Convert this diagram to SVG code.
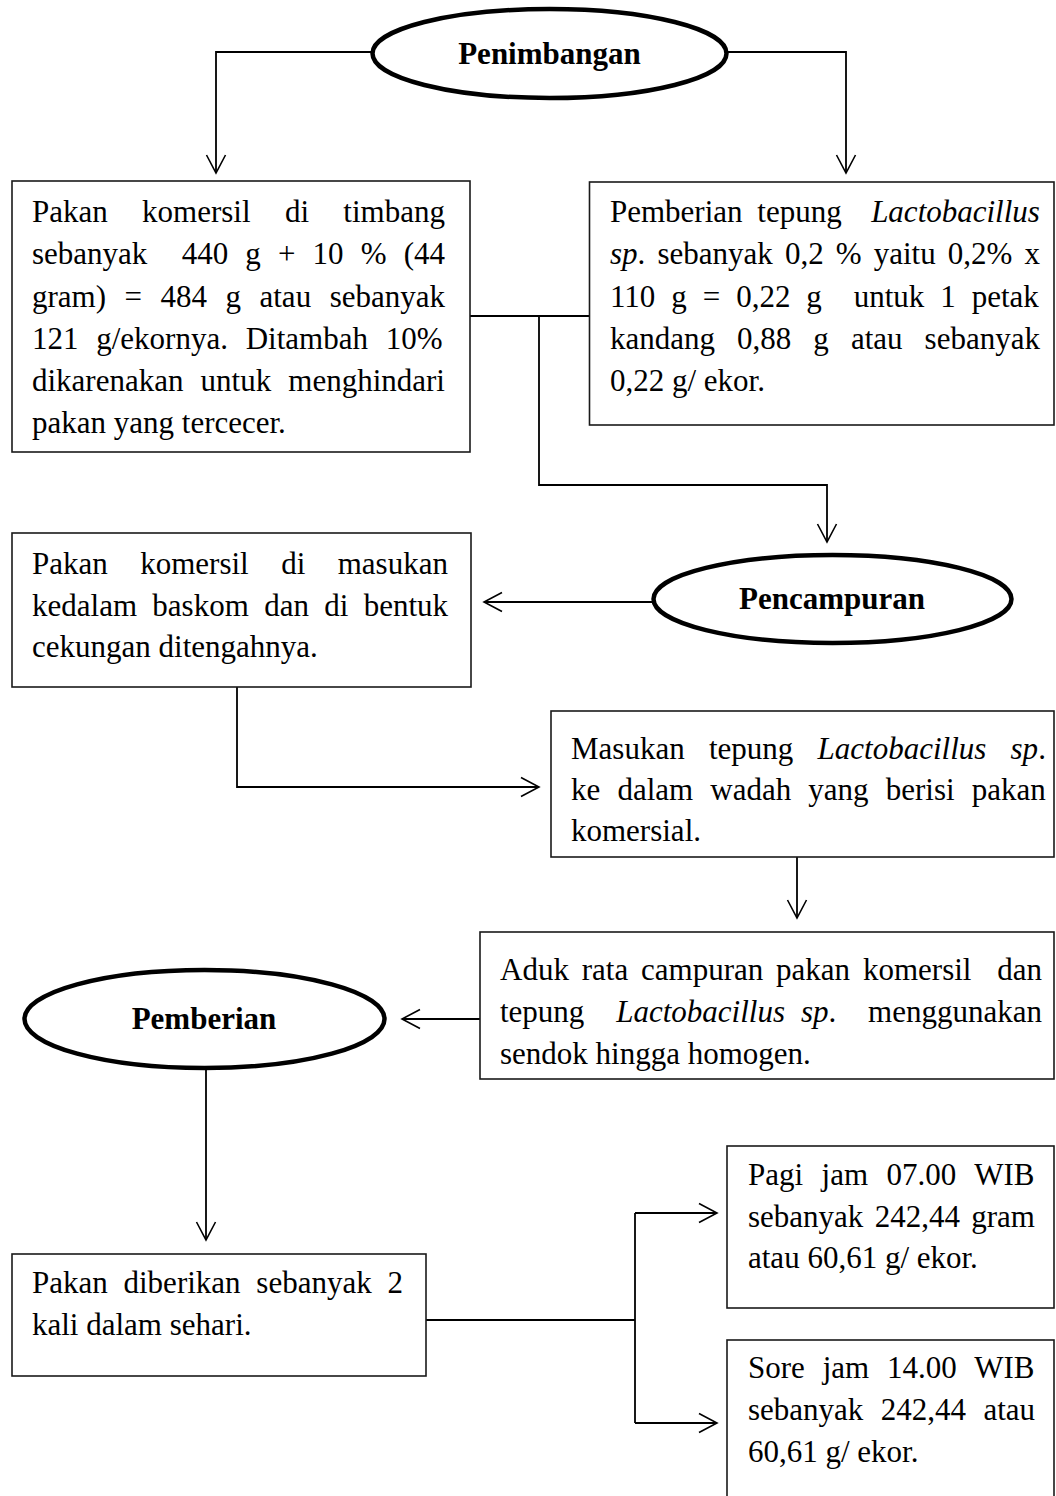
<svg xmlns="http://www.w3.org/2000/svg" width="1056" height="1496" viewBox="0 0 1056 1496">
<style>
.bg{fill:#ffffff}
.box{fill:#ffffff;stroke:#1a1a1a;stroke-width:1.6}
.ell{fill:#ffffff;stroke:#000000;stroke-width:4.5}
.t{font-family:"Liberation Serif","Times New Roman",serif;font-size:31px;fill:#000000}
.b{font-family:"Liberation Serif","Times New Roman",serif;font-size:31px;font-weight:bold;fill:#000000;text-anchor:middle}
.i{font-style:italic}
.c{fill:none;stroke:#000000;stroke-width:1.8}
.a{marker-end:url(#arr)}
</style>
<defs>
<marker id="arr" markerUnits="userSpaceOnUse" markerWidth="24" markerHeight="24" refX="0" refY="0" orient="auto" overflow="visible">
<path d="M-18,-9.5 L0,0 L-18,9.5" fill="none" stroke="#000000" stroke-width="1.6"/>
</marker>
</defs>
<rect class="bg" x="0" y="0" width="1056" height="1496"/>

<g id="connectors">
<path class="c a" d="M371,52 H216 V173"/>
<path class="c a" d="M728,52 H846 V173"/>
<path class="c" d="M470,316 H589.5"/>
<path class="c a" d="M539,316 V485 H827 V542"/>
<path class="c a" d="M652,602 H484"/>
<path class="c a" d="M237,687 V787 H539"/>
<path class="c a" d="M797,857 V918"/>
<path class="c a" d="M480,1019 H402"/>
<path class="c a" d="M206,1070 V1240"/>
<path class="c" d="M426,1320 H635"/>
<path class="c" d="M635,1213 V1423"/>
<path class="c a" d="M635,1213 H717"/>
<path class="c a" d="M635,1423 H717"/>
</g>

<g id="penimbangan">
<ellipse class="ell" cx="549.5" cy="53.5" rx="177" ry="44.5"/>
<text class="b" x="549.5" y="63.5">Penimbangan</text>
</g>

<g id="box-pakan-timbang">
<rect class="box" x="12" y="181" width="458" height="271"/>
<text class="t" x="32" y="222" word-spacing="26.58">Pakan komersil di timbang</text>
<text class="t" x="32" y="264" word-spacing="9.4">sebanyak <tspan dx="17.15">440 g + 10 % (44</tspan></text>
<text class="t" x="32" y="306.5" word-spacing="10.75">gram) = 484 g atau sebanyak</text>
<text class="t" x="32" y="348.5" word-spacing="10">121 g/ekornya. Ditambah 10%</text>
<text class="t" x="32" y="391" word-spacing="9.35">dikarenakan untuk menghindari</text>
<text class="t" x="32" y="433">pakan yang tercecer.</text>
</g>

<g id="box-tepung">
<rect class="box" x="589.5" y="182" width="464.5" height="243"/>
<text class="t" x="610" y="222" word-spacing="6.98">Pemberian tepung <tspan class="i" dx="14.73">Lactobacillus</tspan></text>
<text class="t" x="610" y="264" word-spacing="4.37"><tspan class="i">sp</tspan>. sebanyak 0,2 % yaitu 0,2% x</text>
<text class="t" x="610" y="306.5" word-spacing="8.19">110 g = 0,22 g <tspan dx="15.94">untuk 1 petak</tspan></text>
<text class="t" x="610" y="348.5" word-spacing="14.3">kandang 0,88 g atau sebanyak</text>
<text class="t" x="610" y="391">0,22 g/ ekor.</text>
</g>

<g id="pencampuran">
<ellipse class="ell" cx="832.5" cy="599" rx="179" ry="44"/>
<text class="b" x="832" y="609">Pencampuran</text>
</g>

<g id="box-baskom">
<rect class="box" x="12" y="533" width="459" height="154"/>
<text class="t" x="32" y="574" word-spacing="24.7">Pakan komersil di masukan</text>
<text class="t" x="32" y="615.5" word-spacing="7.6">kedalam baskom dan di bentuk</text>
<text class="t" x="32" y="657">cekungan ditengahnya.</text>
</g>

<g id="box-masukan">
<rect class="box" x="551" y="711" width="503" height="146"/>
<text class="t" x="571" y="759" word-spacing="16.5">Masukan tepung <tspan class="i">Lactobacillus sp</tspan>.</text>
<text class="t" x="571" y="800" word-spacing="9.4">ke dalam wadah yang berisi pakan</text>
<text class="t" x="571" y="841">komersial.</text>
</g>

<g id="box-aduk">
<rect class="box" x="480" y="932" width="574" height="147"/>
<text class="t" x="500" y="980" word-spacing="5.1">Aduk rata campuran pakan komersil <tspan dx="12.85">dan</tspan></text>
<text class="t" x="500" y="1022" word-spacing="8.17">tepung <tspan class="i" dx="15.92">Lactobacillus sp</tspan>. <tspan dx="15.92">menggunakan</tspan></text>
<text class="t" x="500" y="1064">sendok hingga homogen.</text>
</g>

<g id="pemberian">
<ellipse class="ell" cx="204.5" cy="1019" rx="180" ry="49"/>
<text class="b" x="204" y="1029">Pemberian</text>
</g>

<g id="box-sehari">
<rect class="box" x="12" y="1254" width="414" height="122"/>
<text class="t" x="32" y="1293" word-spacing="8">Pakan diberikan sebanyak 2</text>
<text class="t" x="32" y="1335">kali dalam sehari.</text>
</g>

<g id="box-pagi">
<rect class="box" x="727" y="1146" width="327" height="162"/>
<text class="t" x="748" y="1185" word-spacing="10.7">Pagi jam 07.00 WIB</text>
<text class="t" x="748" y="1227" word-spacing="3.6">sebanyak 242,44 gram</text>
<text class="t" x="748" y="1268">atau 60,61 g/ ekor.</text>
</g>

<g id="box-sore">
<rect class="box" x="727" y="1340" width="327" height="200"/>
<text class="t" x="748" y="1378" word-spacing="10.15">Sore jam 14.00 WIB</text>
<text class="t" x="748" y="1420" word-spacing="9.65">sebanyak 242,44 atau</text>
<text class="t" x="748" y="1462">60,61 g/ ekor.</text>
</g>
</svg>
